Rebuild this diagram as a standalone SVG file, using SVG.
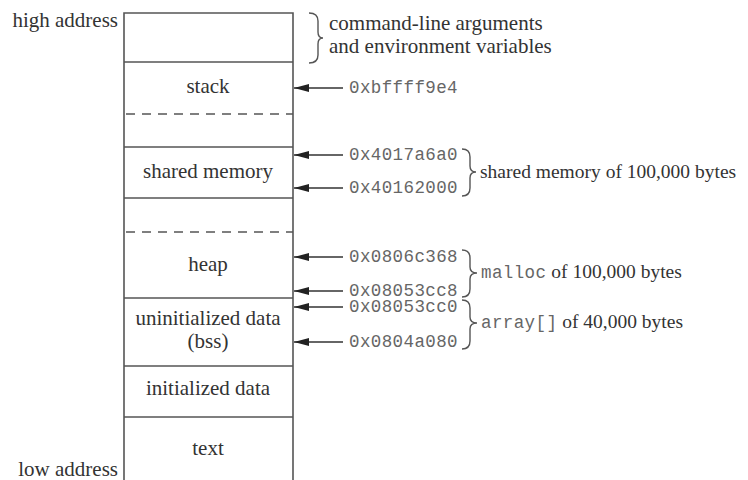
<svg xmlns="http://www.w3.org/2000/svg" width="748" height="480" viewBox="0 0 748 480">
<style>
.box{fill:none;stroke:#555;stroke-width:1.6}
.sep{stroke:#555;stroke-width:1.6}
.dash{stroke:#555;stroke-width:1.6;stroke-dasharray:9,7}
.lbl{font-family:"Liberation Serif",serif;font-size:21px;fill:#333;text-anchor:middle}
.side{font-family:"Liberation Serif",serif;font-size:21px;fill:#333}
.num{font-family:"Liberation Serif",serif;font-size:19.5px;fill:#333}
.addr{font-family:"Liberation Mono",monospace;font-size:17.5px;fill:#666;letter-spacing:0.4px}
.mono{font-family:"Liberation Mono",monospace;font-size:17.5px;fill:#666;letter-spacing:0.4px}
.arr{stroke:#333;stroke-width:1.5;fill:none;marker-end:url(#ah)}
.brace{fill:none;stroke:#555;stroke-width:1.4}
</style>
<defs>
<marker id="ah" markerWidth="15" markerHeight="8" refX="15" refY="4" orient="auto" markerUnits="userSpaceOnUse">
<path d="M0,0 L15,4 L0,8 Z" fill="#222"/>
</marker>
</defs>
<rect width="748" height="480" fill="#fff"/>
<g id="memory">
<path class="box" d="M124,480 L124,13 L293,13 L293,480"/>
<line class="sep" x1="124" y1="62" x2="293" y2="62"/>
<line class="dash" x1="126" y1="114" x2="293" y2="114"/>
<line class="sep" x1="124" y1="147" x2="293" y2="147"/>
<line class="sep" x1="124" y1="198" x2="293" y2="198"/>
<line class="dash" x1="126" y1="232" x2="293" y2="232"/>
<line class="sep" x1="124" y1="298" x2="293" y2="298"/>
<line class="sep" x1="124" y1="366" x2="293" y2="366"/>
<line class="sep" x1="124" y1="417" x2="293" y2="417"/>
</g>
<g id="labels">
<text class="lbl" x="208" y="93">stack</text>
<text class="lbl" x="208" y="178">shared memory</text>
<text class="lbl" x="208" y="271">heap</text>
<text class="lbl" x="208" y="325">uninitialized data</text>
<text class="lbl" x="208" y="348">(bss)</text>
<text class="lbl" x="208" y="395">initialized data</text>
<text class="lbl" x="208" y="455">text</text>
<text class="side" x="118" y="27" text-anchor="end">high address</text>
<text class="side" x="118" y="476" text-anchor="end">low address</text>
</g>
<g id="connectors">
<line class="arr" x1="343" y1="88" x2="294" y2="88"/>
<line class="arr" x1="343" y1="155" x2="294" y2="155"/>
<line class="arr" x1="343" y1="188" x2="294" y2="188"/>
<line class="arr" x1="343" y1="257" x2="294" y2="257"/>
<line class="arr" x1="343" y1="291" x2="294" y2="291"/>
<line class="arr" x1="343" y1="307" x2="294" y2="307"/>
<line class="arr" x1="343" y1="342" x2="294" y2="342"/>
</g>
<g id="addresses">
<text class="addr" x="349" y="93">0xbffff9e4</text>
<text class="addr" x="349" y="160">0x4017a6a0</text>
<text class="addr" x="349" y="193">0x40162000</text>
<text class="addr" x="349" y="262">0x0806c368</text>
<text class="addr" x="349" y="296">0x08053cc8</text>
<text class="addr" x="349" y="312">0x08053cc0</text>
<text class="addr" x="349" y="347">0x0804a080</text>
</g>
<g id="braces">
<path class="brace" d="M309,13 Q318,13 318,21 L318,32 Q318,38 323,38 Q318,38 318,44 L318,55 Q318,63 309,63"/>
<path class="brace" d="M462,149 Q470,149 470,157 L470,166 Q470,172 476,172 Q470,172 470,178 L470,188 Q470,196 462,196"/>
<path class="brace" d="M462,250 Q470,250 470,258 L470,267 Q470,273 477,273 Q470,273 470,279 L470,289 Q470,297 462,297"/>
<path class="brace" d="M462,300 Q470,300 470,308 L470,317 Q470,323 477,323 Q470,323 470,329 L470,341 Q470,349 462,349"/>
</g>
<g id="notes">
<text class="side" x="329" y="30">command-line arguments</text>
<text class="side" x="329" y="53">and environment variables</text>
<text class="num" x="480" y="178">shared memory of 100,000 bytes</text>
<text x="481" y="278"><tspan class="mono">malloc</tspan><tspan class="num"> of 100,000 bytes</tspan></text>
<text x="481" y="328"><tspan class="mono">array[]</tspan><tspan class="num"> of 40,000 bytes</tspan></text>
</g>
</svg>
